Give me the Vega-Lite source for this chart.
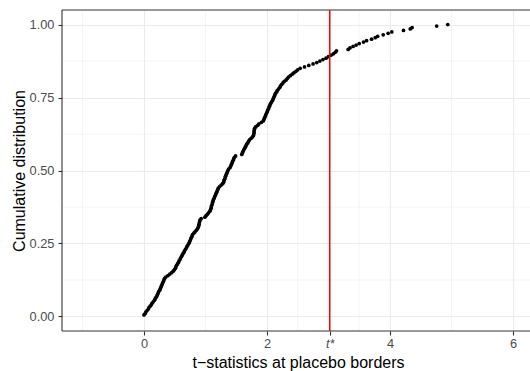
{
"$schema": "https://vega.github.io/schema/vega-lite/v6.json",
"width": 472, "height": 321,
"autosize": {"type": "none"},
"padding": {"left": 62, "top": 10, "right": 0, "bottom": 40},
"background": "white",
"config": {
  "view": {"stroke": null},
  "font": "Liberation Sans",
  "axis": {"labelFont": "Liberation Sans", "titleFont": "Liberation Sans", "labelFontSize": 12.8, "labelColor": "#4D4D4D", "titleFontSize": 16, "titleFontWeight": "normal", "titleColor": "#000000", "tickColor": "#333333", "tickSize": 4, "tickWidth": 1.1, "domain": false, "gridColor": "#EBEBEB", "gridWidth": 1.1, "labelOverlap": false, "labelFlush": false}
},
"datasets": {
  "ecdf": [
{"t":0.00,"F":0.005},{"t":0.02,"F":0.01},{"t":0.03,"F":0.015},{"t":0.05,"F":0.02},{"t":0.07,"F":0.025},{"t":0.08,"F":0.03},{"t":0.10,"F":0.035},{"t":0.12,"F":0.04},{"t":0.13,"F":0.045},{"t":0.15,"F":0.05},
{"t":0.17,"F":0.055},{"t":0.18,"F":0.06},{"t":0.195,"F":0.065},{"t":0.21,"F":0.07},{"t":0.22,"F":0.075},{"t":0.23,"F":0.08},{"t":0.24,"F":0.085},{"t":0.255,"F":0.09},{"t":0.265,"F":0.095},{"t":0.275,"F":0.10},
{"t":0.285,"F":0.105},{"t":0.295,"F":0.11},{"t":0.305,"F":0.115},{"t":0.315,"F":0.12},{"t":0.325,"F":0.125},{"t":0.335,"F":0.13},{"t":0.355,"F":0.135},{"t":0.39,"F":0.14},{"t":0.42,"F":0.145},{"t":0.45,"F":0.15},
{"t":0.475,"F":0.155},{"t":0.495,"F":0.16},{"t":0.51,"F":0.165},{"t":0.52,"F":0.17},{"t":0.53,"F":0.175},{"t":0.545,"F":0.18},{"t":0.56,"F":0.185},{"t":0.57,"F":0.19},{"t":0.585,"F":0.195},{"t":0.595,"F":0.20},
{"t":0.61,"F":0.205},{"t":0.62,"F":0.21},{"t":0.635,"F":0.215},{"t":0.65,"F":0.22},{"t":0.66,"F":0.225},{"t":0.675,"F":0.23},{"t":0.69,"F":0.235},{"t":0.70,"F":0.24},{"t":0.715,"F":0.245},{"t":0.73,"F":0.25},
{"t":0.74,"F":0.255},{"t":0.75,"F":0.26},{"t":0.76,"F":0.265},{"t":0.77,"F":0.27},{"t":0.78,"F":0.275},{"t":0.79,"F":0.28},{"t":0.81,"F":0.285},{"t":0.83,"F":0.29},{"t":0.85,"F":0.295},{"t":0.87,"F":0.30},
{"t":0.88,"F":0.305},{"t":0.89,"F":0.31},{"t":0.895,"F":0.315},{"t":0.90,"F":0.32},{"t":0.905,"F":0.325},{"t":0.91,"F":0.33},{"t":0.93,"F":0.335},{"t":0.99,"F":0.34},{"t":1.01,"F":0.345},{"t":1.03,"F":0.35},
{"t":1.05,"F":0.355},{"t":1.07,"F":0.36},{"t":1.08,"F":0.365},{"t":1.09,"F":0.37},{"t":1.095,"F":0.375},{"t":1.10,"F":0.38},{"t":1.11,"F":0.385},{"t":1.115,"F":0.39},{"t":1.12,"F":0.395},{"t":1.13,"F":0.40},
{"t":1.14,"F":0.405},{"t":1.15,"F":0.41},{"t":1.16,"F":0.415},{"t":1.17,"F":0.42},{"t":1.18,"F":0.425},{"t":1.19,"F":0.43},{"t":1.20,"F":0.435},{"t":1.21,"F":0.44},{"t":1.23,"F":0.445},{"t":1.255,"F":0.45},
{"t":1.28,"F":0.455},{"t":1.295,"F":0.46},{"t":1.30,"F":0.465},{"t":1.31,"F":0.47},{"t":1.32,"F":0.475},{"t":1.325,"F":0.48},{"t":1.335,"F":0.485},{"t":1.345,"F":0.49},{"t":1.355,"F":0.495},{"t":1.365,"F":0.50},
{"t":1.375,"F":0.505},{"t":1.40,"F":0.51},{"t":1.41,"F":0.515},{"t":1.42,"F":0.52},{"t":1.43,"F":0.525},{"t":1.44,"F":0.53},{"t":1.45,"F":0.535},{"t":1.46,"F":0.54},{"t":1.47,"F":0.545},{"t":1.49,"F":0.55},
{"t":1.59,"F":0.555},{"t":1.60,"F":0.56},{"t":1.61,"F":0.565},{"t":1.62,"F":0.57},{"t":1.635,"F":0.575},{"t":1.645,"F":0.58},{"t":1.66,"F":0.585},{"t":1.67,"F":0.59},{"t":1.69,"F":0.595},{"t":1.70,"F":0.60},
{"t":1.715,"F":0.605},{"t":1.74,"F":0.61},{"t":1.765,"F":0.615},{"t":1.78,"F":0.62},{"t":1.785,"F":0.625},{"t":1.79,"F":0.63},{"t":1.79,"F":0.635},{"t":1.795,"F":0.64},{"t":1.80,"F":0.645},{"t":1.82,"F":0.65},
{"t":1.85,"F":0.655},{"t":1.87,"F":0.66},{"t":1.91,"F":0.665},{"t":1.94,"F":0.67},{"t":1.95,"F":0.675},{"t":1.96,"F":0.68},{"t":1.97,"F":0.685},{"t":1.98,"F":0.69},{"t":1.99,"F":0.695},{"t":2.00,"F":0.70},
{"t":2.01,"F":0.705},{"t":2.02,"F":0.71},{"t":2.03,"F":0.715},{"t":2.04,"F":0.72},{"t":2.05,"F":0.725},{"t":2.06,"F":0.73},{"t":2.075,"F":0.735},{"t":2.09,"F":0.74},{"t":2.10,"F":0.745},{"t":2.11,"F":0.75},
{"t":2.12,"F":0.755},{"t":2.13,"F":0.76},{"t":2.14,"F":0.765},{"t":2.16,"F":0.77},{"t":2.17,"F":0.775},{"t":2.19,"F":0.78},{"t":2.21,"F":0.785},{"t":2.22,"F":0.79},{"t":2.24,"F":0.795},{"t":2.26,"F":0.80},
{"t":2.28,"F":0.805},{"t":2.31,"F":0.81},{"t":2.33,"F":0.815},{"t":2.35,"F":0.82},{"t":2.38,"F":0.825},{"t":2.41,"F":0.83},{"t":2.44,"F":0.835},{"t":2.47,"F":0.84},{"t":2.50,"F":0.845},{"t":2.54,"F":0.85},
{"t":2.61,"F":0.855},{"t":2.68,"F":0.86},{"t":2.75,"F":0.865},{"t":2.81,"F":0.87},{"t":2.86,"F":0.875},{"t":2.91,"F":0.88},{"t":2.96,"F":0.885},{"t":3.00,"F":0.89},{"t":3.04,"F":0.895},{"t":3.08,"F":0.90},
{"t":3.11,"F":0.905},{"t":3.13,"F":0.91},{"t":3.32,"F":0.915},{"t":3.35,"F":0.92},{"t":3.40,"F":0.925},{"t":3.45,"F":0.93},{"t":3.50,"F":0.935},{"t":3.57,"F":0.94},{"t":3.62,"F":0.945},{"t":3.70,"F":0.95},
{"t":3.76,"F":0.955},{"t":3.80,"F":0.96},{"t":3.89,"F":0.965},{"t":3.97,"F":0.97},{"t":4.03,"F":0.975},{"t":4.22,"F":0.98},{"t":4.33,"F":0.985},{"t":4.36,"F":0.99},{"t":4.76,"F":0.995},{"t":4.94,"F":1.0}
  ],
  "minorX": [{"t": -1}, {"t": 1}, {"t": 2.5}, {"t": 3.5}, {"t": 5}],
  "minorY": [{"F": 0.125}, {"F": 0.375}, {"F": 0.625}, {"F": 0.875}],
  "frameX": [{"t": -1.333}],
  "frameY": [{"F": -0.05}, {"F": 1.05}],
  "tstar": [{"t": 3.02}]
},
"layer": [
  {
    "data": {"name": "minorX"},
    "mark": {"type": "rule", "color": "#EBEBEB", "strokeWidth": 0.55},
    "encoding": {
      "x": {"field": "t", "type": "quantitative", "scale": {"domain": [-1.333, 6.342], "nice": false, "zero": false},
        "axis": {"orient": "bottom", "title": "t−statistics at placebo borders", "values": [0, 2, 3.02, 4, 6],
          "labelExpr": "datum.value == 3.02 ? 't*' : format(datum.value, 'd')",
          "labelFontStyle": {"condition": {"test": "datum.value == 3.02", "value": "italic"}, "value": "normal"},
          "labelPadding": 2, "titlePadding": 5}}
    }
  },
  {
    "data": {"name": "minorY"},
    "mark": {"type": "rule", "color": "#EBEBEB", "strokeWidth": 0.55},
    "encoding": {
      "y": {"field": "F", "type": "quantitative", "scale": {"domain": [-0.05, 1.05], "nice": false, "zero": false},
        "axis": {"title": "Cumulative distribution", "values": [0, 0.25, 0.5, 0.75, 1], "format": ".2f",
          "labelPadding": 4, "titlePadding": 2}}
    }
  },
  {
    "data": {"name": "ecdf"},
    "mark": {"type": "point", "filled": true, "size": 14, "color": "#000000", "opacity": 1},
    "encoding": {
      "x": {"field": "t", "type": "quantitative", "scale": {"domain": [-1.333, 6.342], "nice": false, "zero": false}},
      "y": {"field": "F", "type": "quantitative", "scale": {"domain": [-0.05, 1.05], "nice": false, "zero": false}}
    }
  },
  {
    "data": {"name": "frameX"},
    "mark": {"type": "rule", "color": "#333333", "strokeWidth": 1.1},
    "encoding": {
      "x": {"field": "t", "type": "quantitative", "scale": {"domain": [-1.333, 6.342], "nice": false, "zero": false}}
    }
  },
  {
    "data": {"name": "frameY"},
    "mark": {"type": "rule", "color": "#333333", "strokeWidth": 1.1},
    "encoding": {
      "y": {"field": "F", "type": "quantitative", "scale": {"domain": [-0.05, 1.05], "nice": false, "zero": false}}
    }
  },
  {
    "data": {"name": "tstar"},
    "mark": {"type": "rule", "color": "#FF0000", "strokeWidth": 1.5},
    "encoding": {
      "x": {"field": "t", "type": "quantitative", "scale": {"domain": [-1.333, 6.342], "nice": false, "zero": false}}
    }
  }
]
}
